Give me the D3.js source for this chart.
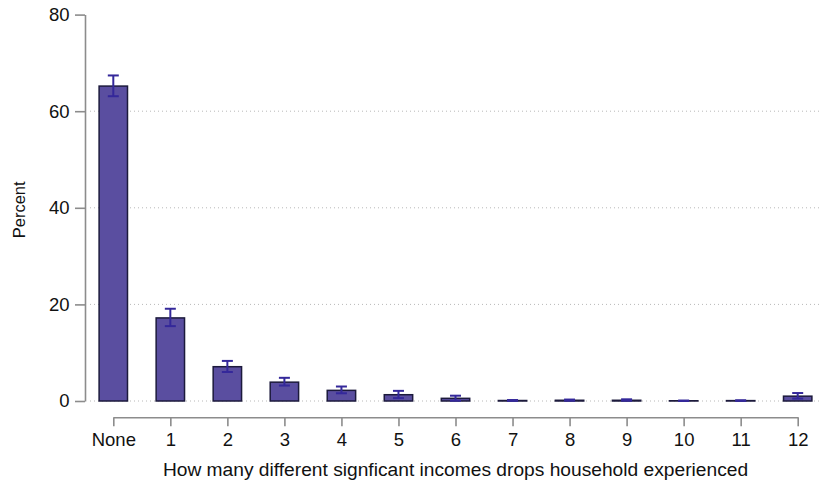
<!DOCTYPE html>
<html>
<head>
<meta charset="utf-8">
<script src="https://cdn.jsdelivr.net/npm/d3@7/dist/d3.min.js"></script>
<style>
  html, body { margin: 0; padding: 0; background: #fff; }
  svg { display: block; font-family: "Liberation Sans", Arial, sans-serif; }
</style>
</head>
<body>
<svg id="chart" width="822" height="483"></svg>
<script>
// Number of distinct significant income drops per household
const categories = ["None", "1", "2", "3", "4", "5", "6", "7", "8", "9", "10", "11", "12"];
const percent    = [65.2, 17.2, 7.1, 3.9, 2.2, 1.3, 0.55, 0.1, 0.15, 0.15, 0.05, 0.08, 1.0];
const ciLow      = [63.1, 15.5, 6.0, 3.2, 1.6, 0.6, 0.06, 0.02, 0.05, 0.05, 0.0, 0.02, 0.5];
const ciHigh     = [67.4, 19.1, 8.3, 4.8, 3.0, 2.1, 1.1, 0.2, 0.3, 0.35, 0.1, 0.15, 1.65];
const yTicks     = [0, 20, 40, 60, 80];
const gridTicks  = [0, 20, 40, 60];

const svg = d3.select("#chart");

const plot = { left: 85, top: 14.6, bottom: 401, right: 822 };

const y = d3.scaleLinear().domain([0, 80]).range([plot.bottom, plot.top]);

const x = d3.scalePoint()
  .domain(categories)
  .range([113.3, 797.7]);

const barW = 28.4;
const fontFamily = "'Liberation Sans', Arial, sans-serif";

// dotted horizontal gridlines
svg.append("g")
  .selectAll("line")
  .data(gridTicks)
  .join("line")
  .attr("x1", 90).attr("x2", 820)
  .attr("y1", d => y(d)).attr("y2", d => y(d))
  .attr("stroke", "#b8b8b8")
  .attr("stroke-width", 1)
  .attr("stroke-dasharray", "1,3");

// y axis
const yAxis = svg.append("g")
  .attr("transform", `translate(${plot.left},0)`)
  .call(d3.axisLeft(y).tickValues(yTicks).tickSize(10).tickPadding(5.5).tickSizeOuter(0));
yAxis.select(".domain").attr("stroke", "#8c8c8c").attr("stroke-width", 1.6);
yAxis.selectAll(".tick line").attr("stroke", "#8c8c8c").attr("stroke-width", 1.6);
yAxis.selectAll(".tick text")
  .attr("fill", "#111")
  .style("font-size", "18.5px")
  .style("font-family", fontFamily);

svg.append("text")
  .attr("transform", `translate(24.5,${y(40) + 2}) rotate(-90)`)
  .attr("text-anchor", "middle")
  .attr("fill", "#111")
  .style("font-size", "16.5px")
  .style("font-family", fontFamily)
  .text("Percent");

// x axis
const xAxis = svg.append("g")
  .attr("transform", "translate(0,417.3)")
  .call(d3.axisBottom(x).tickSize(9).tickPadding(6.3).tickSizeOuter(0));
xAxis.select(".domain").attr("stroke", "#8c8c8c").attr("stroke-width", 1.6);
xAxis.selectAll(".tick line").attr("stroke", "#8c8c8c").attr("stroke-width", 1.6);
xAxis.selectAll(".tick text")
  .attr("fill", "#111")
  .style("font-size", "18.5px")
  .style("font-family", fontFamily);

svg.append("text")
  .attr("x", x("6"))
  .attr("y", 475.7)
  .attr("text-anchor", "middle")
  .attr("fill", "#111")
  .style("font-size", "19.2px")
  .style("font-family", fontFamily)
  .text("How many different signficant incomes drops household experienced");

// bars
svg.append("g")
  .selectAll("rect")
  .data(categories)
  .join("rect")
  .attr("x", d => x(d) - barW / 2)
  .attr("width", barW)
  .attr("y", (d, i) => y(percent[i]))
  .attr("height", (d, i) => y(0) - y(percent[i]))
  .attr("fill", "#5a4ea0")
  .attr("stroke", "#1c1a3c")
  .attr("stroke-width", 1.5);

// confidence intervals
const ci = svg.append("g").attr("stroke", "#34289a").attr("stroke-width", 2);
ci.selectAll("line.v")
  .data(categories)
  .join("line")
  .attr("class", "v")
  .attr("x1", d => x(d)).attr("x2", d => x(d))
  .attr("y1", (d, i) => y(ciLow[i])).attr("y2", (d, i) => y(ciHigh[i]));
ci.selectAll("line.hi")
  .data(categories)
  .join("line")
  .attr("class", "hi")
  .attr("x1", d => x(d) - 5.5).attr("x2", d => x(d) + 5.5)
  .attr("y1", (d, i) => y(ciHigh[i])).attr("y2", (d, i) => y(ciHigh[i]));
ci.selectAll("line.lo")
  .data(categories)
  .join("line")
  .attr("class", "lo")
  .attr("x1", d => x(d) - 5.5).attr("x2", d => x(d) + 5.5)
  .attr("y1", (d, i) => y(ciLow[i])).attr("y2", (d, i) => y(ciLow[i]));
</script>
</body>
</html>
